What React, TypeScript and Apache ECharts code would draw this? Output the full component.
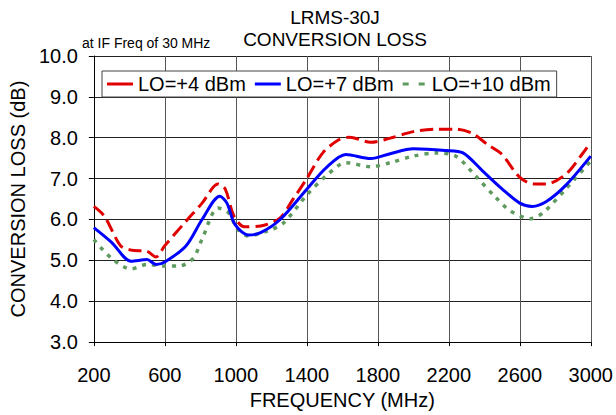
import React, { useEffect, useRef } from "react";
import * as echarts from "echarts";

const FONT = "'Liberation Sans', Arial, sans-serif";

const seriesNames = ["LO=+4 dBm", "LO=+7 dBm", "LO=+10 dBm"];

const lo4Freq = [200, 260, 350, 410, 500, 550, 600, 720, 810, 900, 940, 990, 1050, 1140, 1250, 1320, 1400, 1490, 1580, 1640, 1760, 1870, 2000, 2130, 2240, 2330, 2420, 2500, 2600, 2680, 2750, 2860, 2950, 3000];
const lo4Loss = [6.32, 6.08, 5.36, 5.25, 5.22, 5.08, 5.36, 5.96, 6.40, 6.87, 6.75, 6.08, 5.82, 5.84, 6.04, 6.48, 7.0, 7.63, 7.95, 8.01, 7.89, 7.99, 8.15, 8.21, 8.21, 8.11, 7.83, 7.59, 7.03, 6.87, 6.87, 7.11, 7.59, 7.89];

const lo7Freq = [200, 300, 410, 500, 550, 600, 720, 810, 910, 950, 995, 1070, 1140, 1250, 1400, 1510, 1620, 1760, 1870, 2000, 2180, 2280, 2390, 2500, 2600, 2670, 2750, 2860, 3000];
const lo7Loss = [5.80, 5.44, 4.98, 5.02, 4.90, 4.96, 5.36, 6.00, 6.57, 6.40, 5.88, 5.62, 5.68, 6.00, 6.74, 7.27, 7.59, 7.49, 7.61, 7.73, 7.69, 7.63, 7.19, 6.75, 6.40, 6.32, 6.44, 6.84, 7.55];

const lo10Freq = [200, 300, 410, 500, 600, 680, 760, 810, 900, 960, 1010, 1070, 1180, 1270, 1400, 1510, 1620, 1760, 1870, 2000, 2130, 2240, 2350, 2460, 2550, 2660, 2730, 2860, 3000];
const lo10Loss = [5.51, 5.05, 4.79, 4.90, 4.86, 4.86, 5.05, 5.52, 6.28, 6.16, 5.76, 5.60, 5.72, 5.92, 6.60, 7.07, 7.39, 7.29, 7.39, 7.55, 7.63, 7.55, 7.07, 6.56, 6.20, 6.02, 6.16, 6.75, 7.43];

const titleLines = ["LRMS-30J", "CONVERSION LOSS"];
const noteText = "at IF Freq of 30 MHz";
const xName = "FREQUENCY (MHz)";
const yName = "CONVERSION LOSS (dB)";

const pairs = (xs: number[], ys: number[]) => xs.map((x, i) => [x, ys[i]]);

export default function App() {
  const ref = useRef<HTMLDivElement>(null);
  useEffect(() => {
    if (!ref.current) return;
    const chart = echarts.init(ref.current, null, { renderer: "svg" });
    chart.setOption({
      animation: false,
      backgroundColor: "#ffffff",
      textStyle: { fontFamily: FONT },
      graphic: [
        { type: "text", x: 335, y: 8, style: { text: titleLines[0], fontSize: 19, fontFamily: FONT, fill: "#000", align: "center", verticalAlign: "top" } },
        { type: "text", x: 335, y: 30, style: { text: titleLines[1], fontSize: 19, fontFamily: FONT, fill: "#000", align: "center", verticalAlign: "top" } },
        { type: "text", x: 82, y: 36, style: { text: noteText, fontSize: 14, fontFamily: FONT, fill: "#000", align: "left", verticalAlign: "top" } },
      ],
      grid: { left: 82, right: 24, top: 56, bottom: 66, containLabel: false },
      legend: {
        left: 102,
        top: 71,
        padding: [3, 6, 3, 5],
        itemWidth: 26,
        itemHeight: 3,
        itemGap: 9,
        backgroundColor: "#ffffff",
        borderColor: "#444",
        borderWidth: 1,
        textStyle: { fontSize: 20, fontFamily: FONT, color: "#000" },
        data: [
          { name: seriesNames[0], icon: "rect", itemStyle: { color: "#e00000" } },
          { name: seriesNames[1], icon: "rect", itemStyle: { color: "#0000ff" } },
          { name: seriesNames[2], icon: "path://M0,0H6V3H0ZM16,0H22V3H16Z", itemStyle: { color: "#5f9a5f" } },
        ],
      },
      xAxis: {
        type: "value",
        min: 200,
        max: 3000,
        interval: 400,
        name: xName,
        nameLocation: "middle",
        nameGap: 44,
        nameTextStyle: { fontSize: 20, fontFamily: FONT, color: "#000" },
        axisLine: { show: true, lineStyle: { color: "#000", width: 1 } },
        axisTick: { show: true, length: 4, lineStyle: { color: "#000" } },
        axisLabel: { fontSize: 20, fontFamily: FONT, color: "#000", margin: 23, formatter: (v: number) => String(v) },
        splitLine: { show: true, lineStyle: { color: "#555", width: 1 } },
      },
      yAxis: {
        type: "value",
        min: 3,
        max: 10,
        interval: 1,
        name: yName,
        nameLocation: "middle",
        nameGap: 42,
        nameTextStyle: { fontSize: 20, fontFamily: FONT, color: "#000" },
        axisLine: { show: true, lineStyle: { color: "#000", width: 1 } },
        axisTick: { show: true, length: 5, lineStyle: { color: "#000" } },
        axisLabel: { fontSize: 20, fontFamily: FONT, color: "#000", margin: 16, formatter: (v: number) => v.toFixed(1) },
        splitLine: { show: true, lineStyle: { color: "#222", width: 1 } },
      },
      series: [
        {
          name: seriesNames[0],
          type: "line",
          data: pairs(lo4Freq, lo4Loss),
          smooth: 0.3,
          symbol: "none",
          lineStyle: { color: "#e00000", width: 3, type: [13, 6] },
          itemStyle: { color: "#e00000" },
          z: 3,
        },
        {
          name: seriesNames[1],
          type: "line",
          data: pairs(lo7Freq, lo7Loss),
          smooth: 0.3,
          symbol: "none",
          lineStyle: { color: "#0000ff", width: 3, type: "solid" },
          itemStyle: { color: "#0000ff" },
          z: 4,
        },
        {
          name: seriesNames[2],
          type: "line",
          data: pairs(lo10Freq, lo10Loss),
          smooth: 0.3,
          symbol: "none",
          lineStyle: { color: "#5f9a5f", width: 3.5, type: [4, 6] },
          itemStyle: { color: "#5f9a5f" },
          z: 2,
        },
      ],
    });
    return () => chart.dispose();
  }, []);
  return <div ref={ref} style={{ position: "absolute", left: 0, top: 0, width: 616, height: 415 }} />;
}
